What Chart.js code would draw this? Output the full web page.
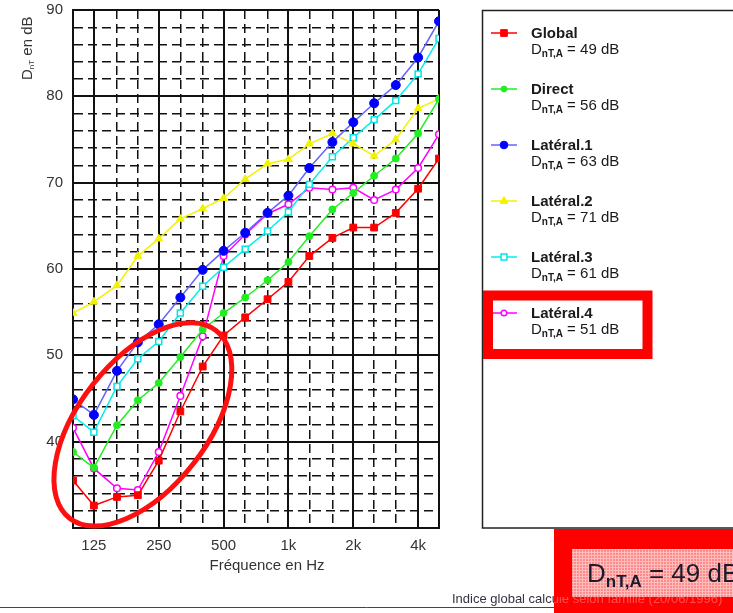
<!DOCTYPE html>
<html>
<head>
<meta charset="utf-8">
<script src="https://cdn.jsdelivr.net/npm/chart.js@4/dist/chart.umd.min.js"></script>
<style>
  html, body { margin: 0; padding: 0; background: #fff; }
  #wrap { width: 733px; height: 613px; position: relative; overflow: hidden; }
</style>
</head>
<body>
<div id="wrap"><canvas id="c" width="733" height="613"></canvas></div>
<script>
// Third-octave band centre frequencies (Hz)
const frequencies = [100, 125, 160, 200, 250, 315, 400, 500, 630, 800, 1000, 1250, 1600, 2000, 2500, 3150, 4000, 5000];
// Octave labels shown under the axis
const octaveLabels = { 125: '125', 250: '250', 500: '500', 1000: '1k', 2000: '2k', 4000: '4k' };

// DnT per band (dB) for each transmission path
const globalValues   = [35.5, 32.6, 33.6, 33.8, 37.8, 43.5, 48.7, 52.3, 54.4, 56.5, 58.5, 61.5, 63.6, 64.8, 64.8, 66.5, 69.3, 72.8];
const directValues   = [38.8, 37.0, 41.9, 44.8, 46.8, 49.8, 53.0, 54.9, 56.7, 58.7, 60.8, 63.8, 66.9, 68.8, 70.8, 72.8, 75.7, 79.7];
const lateral1Values = [44.9, 43.1, 48.2, 51.5, 53.6, 56.7, 59.9, 62.1, 64.2, 66.5, 68.5, 71.7, 74.7, 77.0, 79.2, 81.3, 84.5, 88.7];
const lateral2Values = [54.9, 56.2, 58.1, 61.5, 63.5, 65.8, 67.0, 68.2, 70.4, 72.2, 72.7, 74.5, 75.7, 74.5, 73.1, 75.0, 78.6, 79.7];
const lateral3Values = [43.0, 41.1, 46.4, 49.6, 51.6, 54.9, 58.0, 60.2, 62.3, 64.4, 66.6, 69.8, 73.0, 75.2, 77.3, 79.5, 82.6, 86.7];
const lateral4Values = [41.6, 36.9, 34.6, 34.4, 38.8, 45.3, 52.2, 61.5, 64.0, 66.4, 67.5, 69.4, 69.2, 69.4, 68.0, 69.2, 71.7, 75.6];

// Series names and their single-number index DnT,A (dB)
const seriesNames  = ['Global', 'Direct', 'Latéral.1', 'Latéral.2', 'Latéral.3', 'Latéral.4'];
const seriesIndex  = [49, 56, 63, 71, 61, 51];
const globalIndex  = 49;

const FONT = '"Liberation Sans", Arial, sans-serif';
const majorFreqs = [100, 125, 250, 500, 1000, 2000, 4000, 5000];

const styles = [
  { line: '#ff0000', fill: '#ff0000', stroke: '#ff0000', shape: 'rect',     r: 4.8, bw: 1 },
  { line: '#22ee22', fill: '#22ee22', stroke: '#22ee22', shape: 'circle',   r: 3.5, bw: 1 },
  { line: '#6464ff', fill: '#0000ff', stroke: '#0000ff', shape: 'circle',   r: 4.5, bw: 1 },
  { line: '#f2f200', fill: '#f2f200', stroke: '#f2f200', shape: 'triangle', r: 4.5, bw: 1 },
  { line: '#00eeee', fill: '#ffffff', stroke: '#00e5e5', shape: 'rect',     r: 4.2, bw: 1.5 },
  { line: '#ff00ff', fill: '#ffffff', stroke: '#ff00ff', shape: 'circle',   r: 3.3, bw: 1.5 }
];
const seriesValues = [globalValues, directValues, lateral1Values, lateral2Values, lateral3Values, lateral4Values];

const datasets = seriesValues.map((vals, i) => ({
  label: seriesNames[i],
  data: frequencies.map((f, k) => ({ x: f, y: vals[k] })),
  borderColor: styles[i].line,
  borderWidth: 1.5,
  pointStyle: styles[i].shape,
  pointRadius: styles[i].r,
  pointBackgroundColor: styles[i].fill,
  pointBorderColor: styles[i].stroke,
  pointBorderWidth: styles[i].bw,
  tension: 0,
  fill: false
}));

function drawMarker(ctx, st, x, y) {
  ctx.save();
  ctx.fillStyle = st.fill; ctx.strokeStyle = st.stroke; ctx.lineWidth = st.bw;
  ctx.beginPath();
  if (st.shape === 'rect') {
    const s = st.r * 0.7;
    ctx.rect(x - s, y - s, 2 * s, 2 * s);
  } else if (st.shape === 'triangle') {
    const r = st.r;
    ctx.moveTo(x, y - r); ctx.lineTo(x + r * 0.866, y + r * 0.5); ctx.lineTo(x - r * 0.866, y + r * 0.5); ctx.closePath();
  } else {
    ctx.arc(x, y, st.r * 0.85, 0, Math.PI * 2);
  }
  ctx.fill(); ctx.stroke();
  ctx.restore();
}

// Draws a main string, a subscript and a trailing string; returns end x
function drawSubText(ctx, x, y, big, sub, tail, size, subSize, subBold, subDrop) {
  ctx.font = size + 'px ' + FONT;
  ctx.fillText(big, x, y);
  x += ctx.measureText(big).width;
  ctx.font = (subBold ? 'bold ' : '') + subSize + 'px ' + FONT;
  ctx.fillText(sub, x, y + subDrop);
  x += ctx.measureText(sub).width;
  ctx.font = size + 'px ' + FONT;
  ctx.fillText(tail, x, y);
  return x + ctx.measureText(tail).width;
}

const decorations = {
  id: 'decorations',
  afterDraw(chart) {
    const ctx = chart.ctx;
    const xs = chart.scales.x, ys = chart.scales.y;
    ctx.save();

    // Axis titles
    ctx.fillStyle = '#333';
    ctx.textBaseline = 'alphabetic';
    ctx.save();
    ctx.translate(32, 80);
    ctx.rotate(-Math.PI / 2);
    drawSubText(ctx, 0, 0, 'D', 'nT', ' en dB', 15, 8, false, 2);
    ctx.restore();
    ctx.font = '15px ' + FONT;
    ctx.textAlign = 'center';
    ctx.fillText('Fréquence en Hz', 267, 570);
    ctx.textAlign = 'left';

    // Highlight ellipse around the low-frequency region
    const cx = xs.getPixelForValue(211), cy = ys.getPixelForValue(42.0);
    ctx.beginPath();
    ctx.ellipse(cx, cy, 119, 64, -52 * Math.PI / 180, 0, Math.PI * 2);
    ctx.strokeStyle = '#ff1010';
    ctx.lineWidth = 5;
    ctx.stroke();

    // Legend panel
    ctx.fillStyle = '#fff';
    ctx.fillRect(482, 10, 260, 518);
    ctx.strokeStyle = '#222';
    ctx.lineWidth = 1.5;
    ctx.strokeRect(482.5, 10.5, 270, 517.5);
    for (let i = 0; i < seriesNames.length; i++) {
      const my = 33 + 56 * i;
      ctx.strokeStyle = styles[i].line;
      ctx.lineWidth = 1.5;
      ctx.beginPath(); ctx.moveTo(491, my); ctx.lineTo(517, my); ctx.stroke();
      drawMarker(ctx, styles[i], 504, my);
      ctx.fillStyle = '#1a1a1a';
      ctx.font = 'bold 15px ' + FONT;
      ctx.fillText(seriesNames[i], 531, 37.5 + 56 * i);
      drawSubText(ctx, 531, 54 + 56 * i, 'D', 'nT,A', ' = ' + seriesIndex[i] + ' dB', 15, 10, true, 3);
    }
    // Box around the last legend entry
    ctx.strokeStyle = '#ff0000';
    ctx.lineWidth = 10;
    ctx.strokeRect(488, 295.5, 159.5, 58.5);

    // Footer note and rule
    ctx.fillStyle = '#334';
    ctx.font = '13px ' + FONT;
    const note = 'Indice global calculé selon famille (20/06/1996)';
    ctx.fillText(note, 452, 603);
    ctx.strokeStyle = '#444';
    ctx.lineWidth = 1;
    ctx.beginPath(); ctx.moveTo(0, 607.5); ctx.lineTo(733, 607.5); ctx.stroke();

    // Global index badge
    ctx.fillStyle = '#ff0000';
    ctx.fillRect(554, 529, 190, 90);
    const pc = document.createElement('canvas');
    pc.width = 3; pc.height = 3;
    const pctx = pc.getContext('2d');
    pctx.fillStyle = '#ff8a8a'; pctx.fillRect(0, 0, 3, 3);
    pctx.fillStyle = '#ffbdbd'; pctx.fillRect(0, 0, 3, 1); pctx.fillRect(0, 0, 1, 3);
    ctx.fillStyle = ctx.createPattern(pc, 'repeat');
    ctx.fillRect(572, 549, 170, 48);
    ctx.fillStyle = '#1b1b2b';
    drawSubText(ctx, 587, 582, 'D', 'nT,A', ' = ' + globalIndex + ' dB', 26, 17, true, 5);

    // Footer text faintly showing over the badge edge
    ctx.save();
    ctx.beginPath(); ctx.rect(554, 597, 190, 16); ctx.clip();
    ctx.globalAlpha = 0.3;
    ctx.fillStyle = '#fff';
    ctx.font = '13px ' + FONT;
    ctx.fillText(note, 452, 603);
    ctx.restore();

    ctx.restore();
  }
};

new Chart(document.getElementById('c'), {
  type: 'line',
  data: { datasets },
  options: {
    responsive: false,
    animation: false,
    layout: { padding: { left: 0, top: 10, right: 294, bottom: 0 } },
    plugins: { legend: { display: false }, tooltip: { enabled: false } },
    scales: {
      x: {
        type: 'logarithmic',
        min: 100,
        max: 5000,
        afterBuildTicks: s => { s.ticks = frequencies.map(v => ({ value: v })); },
        afterFit: s => { s.height = 85; s.paddingLeft = 0; s.paddingRight = 0; },
        ticks: {
          autoSkip: false, maxRotation: 0, padding: 9,
          color: '#333', font: { family: FONT, size: 15 },
          callback: v => octaveLabels[v] || ''
        },
        grid: {
          color: '#111', drawTicks: false,
          lineWidth: c => (c.tick && majorFreqs.includes(c.tick.value)) ? 2 : 1.5
        },
        border: {
          color: '#111', width: 2,
          dash: c => (c.tick && !majorFreqs.includes(c.tick.value)) ? [9, 5] : []
        }
      },
      y: {
        min: 30,
        max: 90,
        afterFit: s => { s.width = 73; s.paddingTop = 0; s.paddingBottom = 0; },
        ticks: {
          stepSize: 2, autoSkip: false, padding: 10,
          color: '#333', font: { family: FONT, size: 15 },
          callback: v => (v % 10 === 0 && v >= 40) ? String(v) : ''
        },
        grid: {
          color: '#111', drawTicks: false,
          lineWidth: c => (c.tick && c.tick.value % 10 === 0) ? 2 : 1.5
        },
        border: {
          color: '#111', width: 2,
          dash: c => (c.tick && c.tick.value % 10 !== 0) ? [9, 5] : []
        }
      }
    }
  },
  plugins: [decorations]
});
</script>
</body>
</html>
